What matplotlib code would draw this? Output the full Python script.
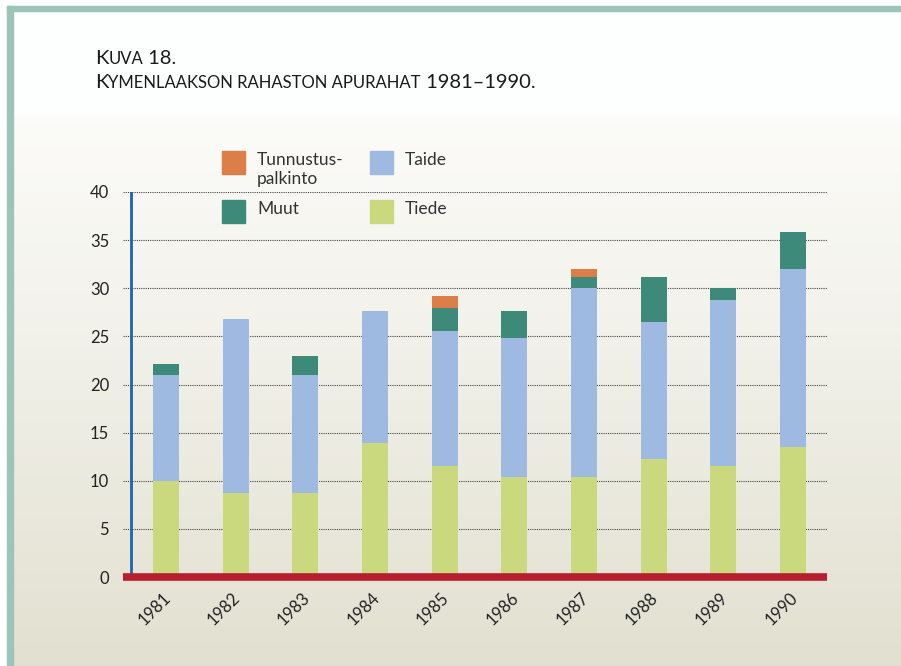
import numpy as np
import matplotlib
matplotlib.use('Agg')
import matplotlib.pyplot as plt
from matplotlib.patches import Rectangle

plt.rcParams['font.family'] = ['Lato', 'DejaVu Sans']

# data (thousand units)
years = ['1981', '1982', '1983', '1984', '1985', '1986', '1987', '1988', '1989', '1990']
tiede = [10.0, 8.7, 8.7, 13.9, 11.5, 10.4, 10.4, 12.3, 11.5, 13.5]
taide = [11.0, 18.1, 12.3, 13.7, 14.1, 14.4, 19.6, 14.2, 17.3, 18.5]
muut = [1.15, 0, 2.0, 0, 2.4, 2.8, 1.15, 4.7, 1.25, 3.85]
tunnustus = [0, 0, 0, 0, 1.15, 0, 0.85, 0, 0, 0]

names = ['Tunnustus-\npalkinto', 'Taide', 'Muut', 'Tiede']
colors = {'Tunnustus-\npalkinto': '#dd7d48', 'Taide': '#9fbae1',
          'Muut': '#3e8a7a', 'Tiede': '#cbd97e'}

W, H = 901, 666
fig = plt.figure(figsize=(W / 100, H / 100), dpi=100)

# background with gradient and teal frame
bg = fig.add_axes([0, 0, 1, 1], zorder=-10)
bg.set_xlim(0, W)
bg.set_ylim(H, 0)
bg.axis('off')
top = np.array([0.985, 0.985, 0.975])
bot = np.array([0.886, 0.878, 0.816])
t = np.linspace(0, 1, 256)[:, None]
grad = (top + (bot - top) * t ** 1.1)[:, None, :]
bg.imshow(grad, extent=[10, W, H, 115], aspect='auto', zorder=0)
bg.add_patch(Rectangle((10, 10), W, 105, color='#fdfefe', zorder=1))
bg.add_patch(Rectangle((7, 6), 6, H, color='#9dc4b9', zorder=2))
bg.add_patch(Rectangle((7, 6), W, 5, color='#9dc4b9', zorder=2))


def small_caps(x, y, parts, big=14.5, small=12):
    r = fig.canvas.get_renderer()
    for txt, is_small in parts:
        tt = fig.text(x, y, txt.upper() if is_small else txt,
                      fontsize=small if is_small else big, color='#1a1a1a',
                      transform=None, va='baseline', ha='left')
        x += tt.get_window_extent(r).width


small_caps(95, H - 64, [('K', False), ('uva', True), (' 18.', False)])
small_caps(95, H - 88, [('K', False), ('ymenlaakson rahaston apurahat', True),
                        (' 1981–1990.', False)])

ax = fig.add_axes([123 / W, 1 - 577 / H, 704 / W, 385 / H])
ax.patch.set_alpha(0)
x = np.arange(len(years))
bw = 0.373
b1 = np.array(tiede)
b2 = b1 + np.array(taide)
b3 = b2 + np.array(muut)
ax.bar(x, tiede, bw, color=colors['Tiede'], zorder=2)
ax.bar(x, taide, bw, bottom=b1, color=colors['Taide'], zorder=2)
ax.bar(x, muut, bw, bottom=b2, color=colors['Muut'], zorder=2)
ax.bar(x, tunnustus, bw, bottom=b3, color=colors['Tunnustus-\npalkinto'], zorder=2)

ax.set_xlim(-0.617, 9.49)
ax.set_ylim(0, 40)
ax.set_yticks(range(0, 41, 5))
ax.yaxis.grid(True, linestyle=(0, (1, 1)), color='#444444', lw=0.8, zorder=0)
ax.set_axisbelow(True)
for s in ax.spines.values():
    s.set_visible(False)
ax.tick_params(axis='y', length=0, pad=10, labelsize=12, labelcolor='#222222')
ax.tick_params(axis='x', length=0, pad=13, labelsize=12, labelcolor='#222222')
ax.set_xticks(x + 0.03)
ax.set_xticklabels(years, rotation=45, ha='right', va='center',
                   rotation_mode='anchor')
ax.axvline(-0.5, color='#1f63ad', lw=2, zorder=3)
ax.axhline(0, color='#b81f2e', lw=5.5, zorder=4, clip_on=False,
           solid_capstyle='butt')

# legend
pos = [(222, 151), (370, 151), (222, 200), (370, 200)]
for name, (px, py) in zip(names, pos):
    bg.add_patch(Rectangle((px, py), 23, 23, color=colors[name], zorder=3))
    bg.text(px + 35, py + 1, name, fontsize=12.5, va='top', ha='left',
            color='#333333', linespacing=1.2, zorder=3)

fig.savefig('out.png', dpi=100)
